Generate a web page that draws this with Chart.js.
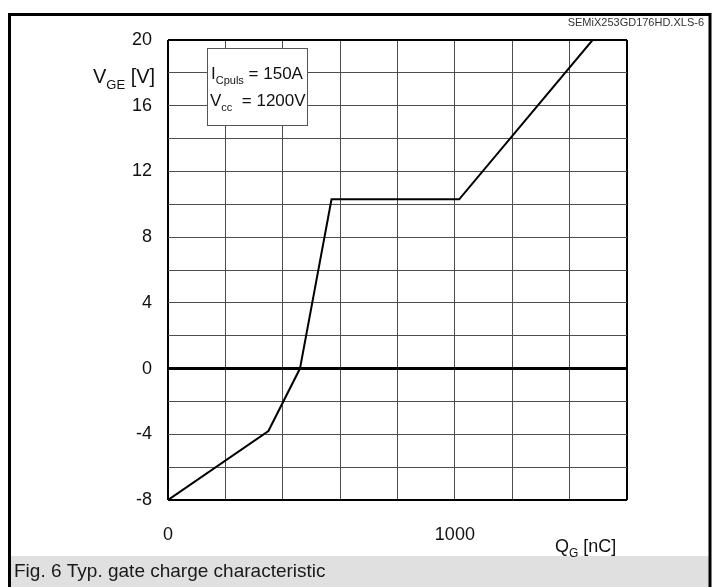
<!DOCTYPE html>
<html lang="en">
<head>
<meta charset="UTF-8" />
<title>Typ. gate charge characteristic</title>
<script src="https://cdn.jsdelivr.net/npm/chart.js"></script>
<style>
    body { margin: 0; background: #fff; }
    #wrap { width: 717px; height: 587px; }
</style>
</head>
<body>
<div id="wrap"><canvas id="gateChart" width="717" height="587"></canvas></div>
<script>
// gate charge curve
const qG = [0, 350, 460, 570, 1015, 1480];          // nC
const vGE = [-8, -3.8, 0, 10.3, 10.3, 20];           // V
const yLabelTicks = [-8, -4, 0, 4, 8, 12, 16, 20];
const xLabelTicks = [0, 1000];

const FONT = '"Liberation Sans", Arial, sans-serif';

// text with a subscript part, returns end x
function subText(ctx, x, y, main, sub, rest, size, subSize) {
    ctx.font = size + 'px ' + FONT;
    ctx.fillText(main, x, y);
    x += ctx.measureText(main).width;
    ctx.font = subSize + 'px ' + FONT;
    ctx.fillText(sub, x, y + size * 0.3);
    x += ctx.measureText(sub).width;
    ctx.font = size + 'px ' + FONT;
    ctx.fillText(rest, x, y);
    return x + ctx.measureText(rest).width;
}

const decor = {
    id: 'decor',
    beforeDraw(chart) {
        const ctx = chart.ctx;
        ctx.save();
        ctx.fillStyle = '#fff';
        ctx.fillRect(0, 0, 717, 587);
        // caption band
        ctx.fillStyle = '#e0e0e0';
        ctx.fillRect(11, 556, 699, 31);
        ctx.fillStyle = '#1a1a1a';
        ctx.font = '19px ' + FONT;
        ctx.textBaseline = 'middle';
        ctx.fillText('Fig. 6 Typ. gate charge characteristic', 14, 572);
        // outer frame
        ctx.strokeStyle = '#000';
        ctx.lineWidth = 3;
        ctx.beginPath();
        ctx.moveTo(9.5, 587);
        ctx.lineTo(9.5, 14.5);
        ctx.lineTo(710, 14.5);
        ctx.lineTo(710, 587);
        ctx.stroke();
        // file tag
        ctx.fillStyle = '#333';
        ctx.font = '11px ' + FONT;
        ctx.textAlign = 'right';
        ctx.fillText('SEMiX253GD176HD.XLS-6', 704, 23);
        ctx.restore();
    },
    afterDraw(chart) {
        const ctx = chart.ctx;
        ctx.save();
        ctx.fillStyle = '#111';
        ctx.textBaseline = 'alphabetic';
        // axis titles
        subText(ctx, 93, 83, 'V', 'GE', ' [V]', 20, 13);
        subText(ctx, 555, 552, 'Q', 'G', ' [nC]', 18, 12);
        // condition box
        ctx.fillStyle = '#fff';
        ctx.fillRect(207, 48, 100, 77);
        ctx.strokeStyle = '#555';
        ctx.lineWidth = 1;
        ctx.strokeRect(207.5, 48.5, 100, 77);
        ctx.fillStyle = '#111';
        subText(ctx, 211, 79, 'I', 'Cpuls', ' = 150A', 17, 11);
        subText(ctx, 210, 106, 'V', 'cc', '  = 1200V', 17, 11);
        ctx.restore();
    }
};

function gridWidth(v, lo, hi) {
    if (v === 0 && lo < 0) return 3;
    if (v === lo || v === hi) return 2;
    return 1;
}

new Chart(document.getElementById('gateChart'), {
    type: 'scatter',
    data: {
        datasets: [{
            data: qG.map((q, i) => ({ x: q, y: vGE[i] })),
            showLine: true,
            borderColor: '#000',
            borderWidth: 2,
            pointRadius: 0,
            tension: 0
        }]
    },
    options: {
        responsive: false,
        animation: false,
        layout: { padding: { left: 108, top: 40, right: 90, bottom: 37 } },
        plugins: { legend: { display: false }, tooltip: { enabled: false } },
        scales: {
            x: {
                type: 'linear',
                min: 0,
                max: 1600,
                afterFit: s => { s.height = 50; },
                border: { display: false },
                grid: {
                    drawTicks: false,
                    color: c => gridWidth(c.tick.value, 0, 1600) > 1 ? '#000' : '#4d4d4d',
                    lineWidth: c => gridWidth(c.tick.value, 0, 1600)
                },
                ticks: {
                    stepSize: 200,
                    padding: 24,
                    color: '#111',
                    font: { family: FONT, size: 18 },
                    maxRotation: 0,
                    autoSkip: false,
                    callback: v => xLabelTicks.includes(v) ? String(v) : ''
                }
            },
            y: {
                min: -8,
                max: 20,
                afterFit: s => { s.width = 60; },
                border: { display: false },
                grid: {
                    drawTicks: false,
                    color: c => gridWidth(c.tick.value, -8, 20) > 1 ? '#000' : '#4d4d4d',
                    lineWidth: c => gridWidth(c.tick.value, -8, 20)
                },
                ticks: {
                    stepSize: 2,
                    padding: 16,
                    color: '#111',
                    font: { family: FONT, size: 18 },
                    autoSkip: false,
                    callback: v => yLabelTicks.includes(v) ? String(v) : ''
                }
            }
        }
    },
    plugins: [decor]
});
</script>
</body>
</html>
